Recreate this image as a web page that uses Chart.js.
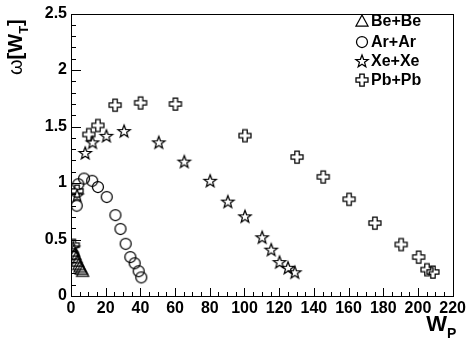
<!DOCTYPE html>
<html>
<head>
<meta charset="utf-8">
<script src="https://cdn.jsdelivr.net/npm/chart.js@4.4.1/dist/chart.umd.min.js"></script>
<style>
  html, body { margin: 0; padding: 0; background: #fff; }
  #wrap { width: 469px; height: 346px; }
</style>
</head>
<body>
<div id="wrap"><canvas id="chart" width="469" height="346"></canvas></div>
<script>
// Data (W_P, omega[W_T])
const beW     = [1.5, 2.2, 3.0, 3.7, 4.5, 5.2, 6.0, 6.7];
const beOmega = [0.40, 0.37, 0.34, 0.31, 0.28, 0.26, 0.24, 0.22];

const arW     = [1.3, 3.3, 4.2, 7.5, 12.2, 15.5, 20.6, 25.6, 28.5, 31.5, 34.2, 36.7, 39.0, 40.5];
const arOmega = [0.37, 0.80, 0.99, 1.04, 1.02, 0.965, 0.877, 0.716, 0.594, 0.462, 0.345, 0.29, 0.22, 0.165];

const xeW     = [1.3, 3.5, 8.2, 12.4, 20.4, 30.6, 50.6, 65.3, 80.2, 90.4, 100.3, 110.2, 115.4, 120.2, 125.1, 129.0];
const xeOmega = [0.43, 0.89, 1.266, 1.36, 1.418, 1.46, 1.36, 1.19, 1.02, 0.836, 0.705, 0.52, 0.41, 0.30, 0.25, 0.21];

const pbW     = [1.3, 3.5, 10.3, 15.5, 25.4, 40.1, 60.2, 100.3, 130.3, 145.4, 160.3, 175.2, 190.3, 200.4, 205.2, 208.6];
const pbOmega = [0.45, 0.93, 1.43, 1.51, 1.69, 1.71, 1.70, 1.42, 1.23, 1.055, 0.857, 0.646, 0.456, 0.345, 0.234, 0.213];

const seriesNames = ['Be+Be', 'Ar+Ar', 'Xe+Xe', 'Pb+Pb'];
const xTicks = [0, 20, 40, 60, 80, 100, 120, 140, 160, 180, 200, 220];
const yTicks = [0, 0.5, 1, 1.5, 2, 2.5];

const FONT = '"Liberation Sans", Arial, Helvetica, sans-serif';

// open markers drawn on small canvases
function makeMarker(kind) {
  const s = 18;
  const c = document.createElement('canvas');
  c.width = s; c.height = s;
  const g = c.getContext('2d');
  g.strokeStyle = '#000';
  g.lineWidth = 1.25;
  g.translate(s / 2, s / 2);
  g.beginPath();
  if (kind === 'triangle') {
    g.moveTo(0, -6); g.lineTo(6, 5); g.lineTo(-6, 5); g.closePath();
  } else if (kind === 'circle') {
    g.arc(0, 0, 5.5, 0, Math.PI * 2);
  } else if (kind === 'star') {
    const R = 6.5, r = 2.7;
    for (let i = 0; i < 10; i++) {
      const a = -Math.PI / 2 + i * Math.PI / 5;
      const rad = i % 2 === 0 ? R : r;
      const px = Math.cos(a) * rad, py = Math.sin(a) * rad + 0.5;
      if (i === 0) g.moveTo(px, py); else g.lineTo(px, py);
    }
    g.closePath();
  } else if (kind === 'cross') {
    const L = 6, a = 2.2;
    const pts = [[-a,-L],[a,-L],[a,-a],[L,-a],[L,a],[a,a],[a,L],[-a,L],[-a,a],[-L,a],[-L,-a],[-a,-a]];
    pts.forEach((p, i) => i === 0 ? g.moveTo(p[0], p[1]) : g.lineTo(p[0], p[1]));
    g.closePath();
  }
  g.stroke();
  return c;
}

const markers = [makeMarker('triangle'), makeMarker('circle'), makeMarker('star'), makeMarker('cross')];

function toPoints(xs, ys) {
  return xs.map((x, i) => ({ x: x, y: ys[i] }));
}

const datasets = [
  toPoints(beW, beOmega),
  toPoints(arW, arOmega),
  toPoints(xeW, xeOmega),
  toPoints(pbW, pbOmega)
].map((data, i) => ({
  label: seriesNames[i],
  data: data,
  pointStyle: markers[i],
  showLine: false
}));

// frame, inward ticks, axis titles, legend
const rootStyle = {
  id: 'rootStyle',
  afterDraw(chart) {
    const ctx = chart.ctx;
    const a = chart.chartArea;
    const xs = chart.scales.x, ys = chart.scales.y;
    ctx.save();
    ctx.strokeStyle = '#000';
    ctx.lineWidth = 1;
    ctx.strokeRect(Math.round(a.left) + 0.5, Math.round(a.top) + 0.5,
      Math.round(a.right - a.left), Math.round(a.bottom - a.top));

    ctx.beginPath();
    for (let v = 0; v <= 220.001; v += 5) {
      const px = Math.round(xs.getPixelForValue(v)) + 0.5;
      const len = (v % 20 === 0) ? 8 : 4;
      ctx.moveTo(px, a.bottom);
      ctx.lineTo(px, a.bottom - len);
    }
    for (let k = 0; k <= 25; k++) {
      const v = k / 10;
      const py = Math.round(ys.getPixelForValue(v)) + 0.5;
      const len = (k % 5 === 0) ? 10 : 5;
      ctx.moveTo(a.left, py);
      ctx.lineTo(a.left + len, py);
    }
    ctx.stroke();

    // x title W_P
    ctx.fillStyle = '#000';
    ctx.textBaseline = 'alphabetic';
    ctx.font = 'bold 22px ' + FONT;
    ctx.textAlign = 'right';
    ctx.fillText('W', 447, 331);
    ctx.font = 'bold 14px ' + FONT;
    ctx.textAlign = 'left';
    ctx.fillText('P', 447, 338);

    // y title omega[W_T], rotated
    ctx.save();
    ctx.translate(22, 75);
    ctx.rotate(-Math.PI / 2);
    ctx.textAlign = 'left';
    ctx.font = '20px ' + FONT;
    let x = 0;
    ctx.fillText('ω', x, 0); x += ctx.measureText('ω').width;
    ctx.font = 'bold 20px ' + FONT;
    ctx.fillText('[W', x, 0); x += ctx.measureText('[W').width;
    ctx.font = 'bold 13px ' + FONT;
    ctx.fillText('T', x, 6); x += ctx.measureText('T').width;
    ctx.font = 'bold 20px ' + FONT;
    ctx.fillText(']', x, 0);
    ctx.restore();

    // legend
    const rows = [21, 42, 61, 80];
    ctx.font = 'bold 16px ' + FONT;
    ctx.textBaseline = 'middle';
    ctx.textAlign = 'left';
    seriesNames.forEach((name, i) => {
      const m = markers[i];
      ctx.drawImage(m, 362 - m.width / 2, rows[i] - m.height / 2);
      ctx.fillText(name, 371, rows[i] + 1);
    });
    ctx.restore();
  }
};

new Chart(document.getElementById('chart'), {
  type: 'scatter',
  data: { datasets: datasets },
  options: {
    responsive: false,
    animation: false,
    devicePixelRatio: 1,
    layout: { padding: { top: 11, right: 14, left: 0, bottom: 0 } },
    plugins: { legend: { display: false }, tooltip: { enabled: false } },
    scales: {
      x: {
        type: 'linear',
        min: 0, max: 220,
        afterBuildTicks: (s) => { s.ticks = xTicks.map(v => ({ value: v })); },
        afterFit: (s) => { s.height = 50; },
        grid: { display: false, drawTicks: false },
        border: { display: false },
        ticks: {
          color: '#000',
          padding: 3,
          maxRotation: 0,
          autoSkip: false,
          font: { family: FONT, size: 16, weight: 'bold' },
          callback: (v) => String(v)
        }
      },
      y: {
        type: 'linear',
        min: 0, max: 2.5,
        afterBuildTicks: (s) => { s.ticks = yTicks.map(v => ({ value: v })); },
        afterFit: (s) => { s.width = 71; },
        grid: { display: false, drawTicks: false },
        border: { display: false },
        ticks: {
          color: '#000',
          padding: 4,
          autoSkip: false,
          font: { family: FONT, size: 16, weight: 'bold' },
          callback: (v) => String(v)
        }
      }
    }
  },
  plugins: [rootStyle]
});
</script>
</body>
</html>
